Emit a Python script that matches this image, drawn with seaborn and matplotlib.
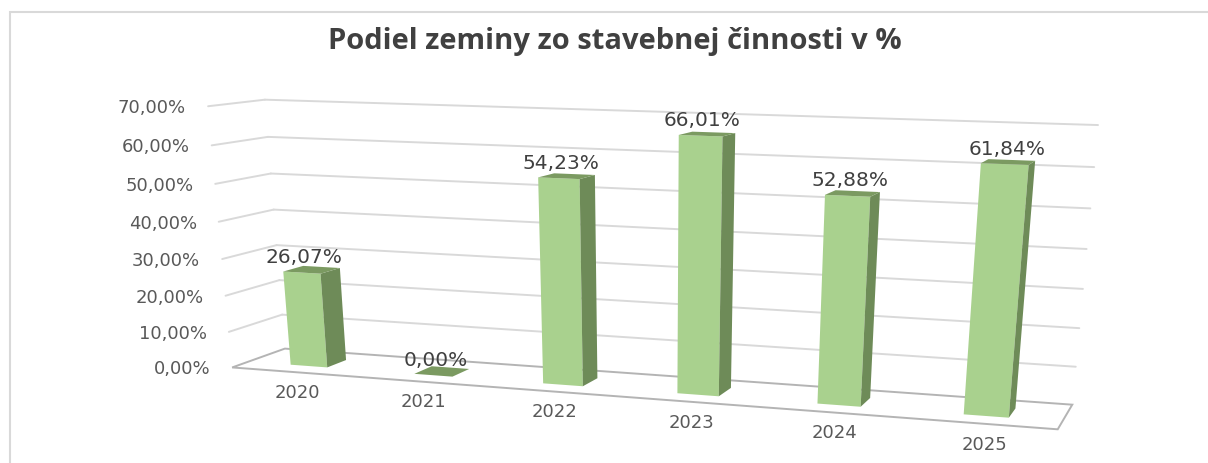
import numpy as np
import pandas as pd
import matplotlib
matplotlib.use("Agg")
import matplotlib.pyplot as plt
import matplotlib.transforms as mtransforms
from matplotlib.patches import Rectangle
import seaborn as sns

# chart data
years = ["2020", "2021", "2022", "2023", "2024", "2025"]
shares = [26.07, 0.00, 54.23, 66.01, 52.88, 61.84]
share_labels = ["26,07%", "0,00%", "54,23%", "66,01%", "52,88%", "61,84%"]
y_ticks = [0, 10, 20, 30, 40, 50, 60, 70]
y_tick_labels = ["0,00%", "10,00%", "20,00%", "30,00%", "40,00%", "50,00%", "60,00%", "70,00%"]
title = "Podiel zeminy zo stavebnej činnosti v %"

W, H = 1208, 463
front_col = "#a9d18e"
side_col = "#6e8b58"
top_col = "#7b9a61"
grid_col = "#d9d9d9"

sns.set_theme(style="white")
plt.rcParams["font.family"] = ["DejaVu Sans"]

# 3d box of the chart: x = category, y = percent, z = depth (0 front, 1 back)
x_lo, x_hi = -0.5, len(years) - 0.5
y_top = y_ticks[-1]
box_world = [(x_lo, y_top, 1), (x_hi, y_top, 1), (x_hi, 0, 1), (x_lo, 0, 1),
             (x_lo, 0, 0), (x_hi, 0, 0), (x_lo, y_top, 0)]
box_pixels = [(265, 99), (1098, 125), (1072, 405), (285, 349),
              (232, 367), (1058, 429), (208, 107)]


def fit_camera(world, pixels):
    rows = []
    for (X, Y, Z), (u, v) in zip(world, pixels):
        u, v = u / 1000.0, (H - v) / 1000.0
        Y = Y / 10.0
        rows.append([X, Y, Z, 1, 0, 0, 0, 0, -u * X, -u * Y, -u * Z, -u])
        rows.append([0, 0, 0, 0, X, Y, Z, 1, -v * X, -v * Y, -v * Z, -v])
    _, _, vt = np.linalg.svd(np.array(rows))
    P = vt[-1].reshape(3, 4)
    P = np.diag([1000.0, 1000.0, 1.0]) @ P
    P[:, 1] = P[:, 1] / 10.0
    return P


P = fit_camera(box_world, box_pixels)


class PlaneTransform(mtransforms.Transform):
    input_dims = 2
    output_dims = 2

    def __init__(self, M):
        super().__init__()
        self.M = M

    def transform_non_affine(self, values):
        v = np.asarray(values, dtype=float).reshape(-1, 2)
        p = np.column_stack([v, np.ones(len(v))]) @ self.M.T
        return p[:, :2] / p[:, 2:3]


def plane_z(z):  # coords (x, y)
    return PlaneTransform(np.column_stack([P[:, 0], P[:, 1], z * P[:, 2] + P[:, 3]]))


def plane_x(x):  # coords (z, y)
    return PlaneTransform(np.column_stack([P[:, 2], P[:, 1], x * P[:, 0] + P[:, 3]]))


def plane_y(y):  # coords (x, z)
    return PlaneTransform(np.column_stack([P[:, 0], P[:, 2], y * P[:, 1] + P[:, 3]]))


df = pd.DataFrame({"year": years, "share": shares})

fig = plt.figure(figsize=(W / 100, H / 100), dpi=100)
ax = fig.add_axes([0, 0, 1, 1])

# walls and floor
for t in y_ticks[1:]:
    ax.plot([x_lo, x_hi], [t, t], color=grid_col, lw=1.4, transform=plane_z(1), zorder=1)
    ax.plot([0, 1], [t, t], color=grid_col, lw=1.4, transform=plane_x(x_lo), zorder=1)
ax.add_patch(Rectangle((x_lo, 0), x_hi - x_lo, 1, fill=False, ec="#b4b4b4", lw=1.4,
                       transform=plane_y(0), zorder=1))

# bars
sns.barplot(data=df, x="year", y="share", color=front_col, width=0.3,
            saturation=1, linewidth=0, ax=ax, zorder=3)
zf, zb = 0.3, 0.68
for p in list(ax.patches):
    if not isinstance(p, Rectangle) or p.get_facecolor()[3] == 0:
        continue
    p.set_transform(plane_z(zf))
    x0, w, h = p.get_x(), p.get_width(), p.get_height()
    ax.add_patch(Rectangle((zf, 0), zb - zf, h, fc=side_col, lw=0,
                           transform=plane_x(x0 + w), zorder=3))
    ax.add_patch(Rectangle((x0, zf), w, zb - zf, fc=top_col, lw=0,
                           transform=plane_y(h), zorder=3))

# labels
for i, (v, lab) in enumerate(zip(shares, share_labels)):
    tr = mtransforms.offset_copy(plane_z(zf), fig=fig, x=2, y=15, units="dots")
    ax.text(i, v, lab, transform=tr, ha="center", va="center", fontsize=14.5,
            color="#404040", zorder=5)
    tr = mtransforms.offset_copy(plane_z(0), fig=fig, x=4, y=-21, units="dots")
    ax.text(i, 0, years[i], transform=tr, ha="center", va="center", fontsize=13,
            color="#595959", zorder=5)

for t, lab in zip(y_ticks, y_tick_labels):
    tr = mtransforms.offset_copy(plane_x(x_lo), fig=fig, x=-22, y=-2, units="dots")
    ax.text(0, t, lab, transform=tr, ha="right", va="center", fontsize=13,
            color="#595959", zorder=5)

ax.set_axis_off()

fig.text(0.509, 1 - 41 / H, title, ha="center", va="center", fontsize=21,
         fontweight="bold", family=["Open Sans", "DejaVu Sans"], color="#404040")
fig.add_artist(Rectangle((10 / W, -0.05), 1.2, 1.05 - 12 / H, fill=False,
                         ec="#d9d9d9", lw=1.5, transform=fig.transFigure))

fig.savefig("out.png", dpi=100)
